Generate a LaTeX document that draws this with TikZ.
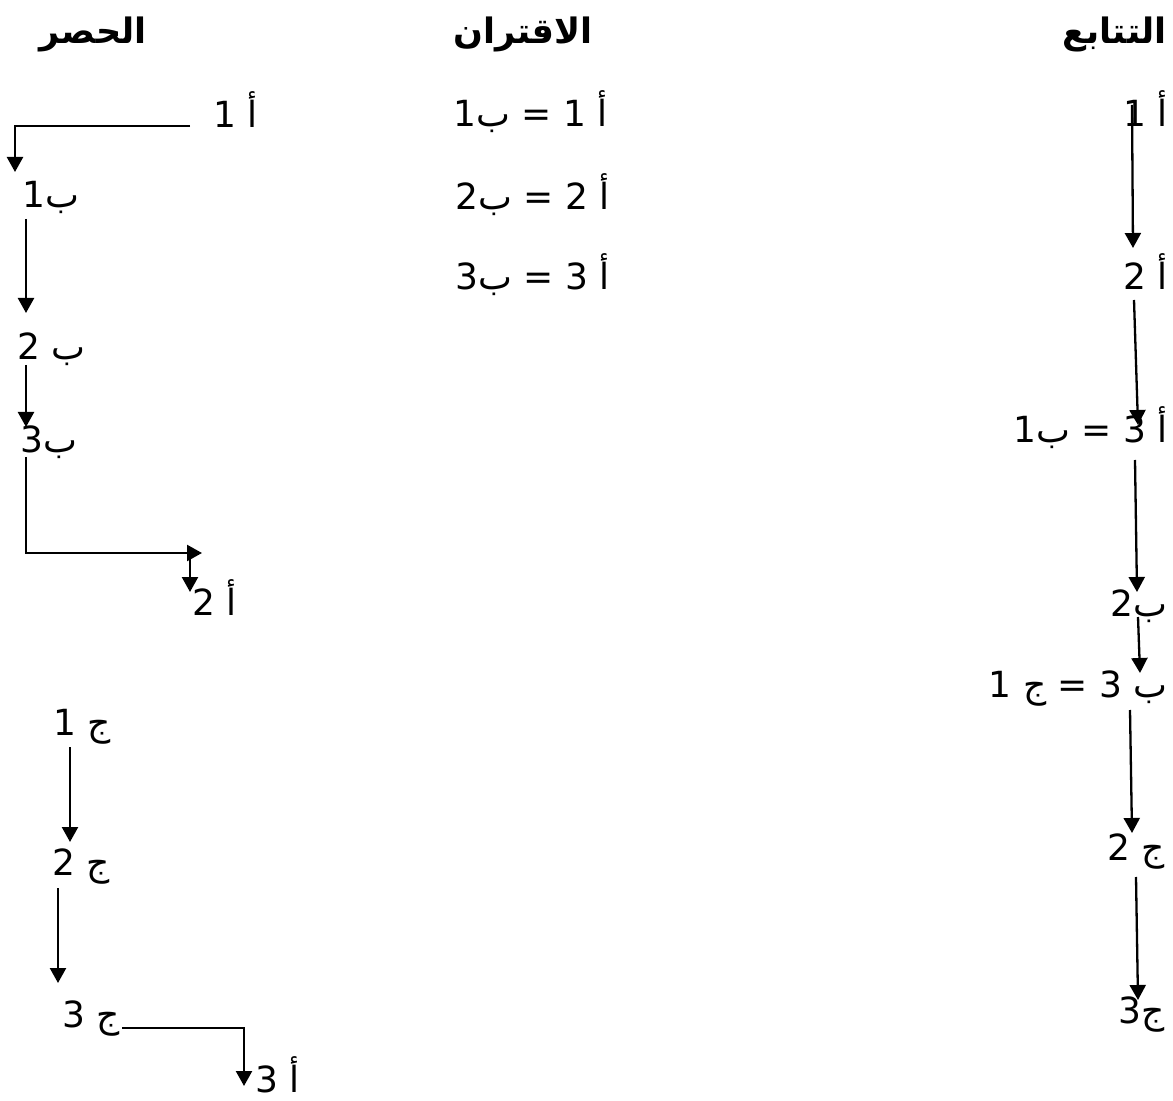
\documentclass[tikz,border=0pt]{standalone}
\usepackage{fontspec}
\setmainfont{DejaVu Sans}
\newfontfamily\arabicfont[Script=Arabic]{DejaVu Sans}
\TeXXeTstate=1
\usetikzlibrary{arrows.meta}

\begin{document}
\begin{tikzpicture}[x=.5pt,y=-.5pt,
    lbl/.style={inner sep=0pt,font=\arabicfont\fontsize{18}{22}\selectfont},
    head/.style={inner sep=0pt,font=\arabicfont\bfseries\fontsize{17.5}{20}\selectfont},
    link/.style={line width=1.15pt,-{Triangle[length=7.5pt,width=8pt]}}]
\useasboundingbox (0,0) rectangle (1173,1101);
\node[head,anchor=base east] (hasr) at (147,44) {\beginR الحصر\endR};
\node[head,anchor=base east] (iqtiran) at (593,44) {\beginR الاقتران\endR};
\node[head,anchor=base east] (tatabu) at (1167,44) {\beginR التتابع\endR};
\node[lbl,anchor=base east] (la1) at (258,128) {\beginR أ 1\endR};
\node[lbl,anchor=base west] (lb1) at (22,208) {\beginR ب1\endR};
\node[lbl,anchor=base west] (lb2) at (17,360) {\beginR ب 2\endR};
\node[lbl,anchor=base west] (lb3) at (20,453) {\beginR ب3\endR};
\node[lbl,anchor=base west] (la2) at (192,615) {\beginR أ 2\endR};
\node[lbl,anchor=base west] (lc1) at (53,735) {\beginR ج 1\endR};
\node[lbl,anchor=base west] (lc2) at (52,875) {\beginR ج 2\endR};
\node[lbl,anchor=base west] (lc3) at (62,1027) {\beginR ج 3\endR};
\node[lbl,anchor=base west] (la3) at (255,1092) {\beginR أ 3\endR};
\node[lbl,anchor=base east] (m1) at (608,127) {\beginR أ 1 = ب1\endR};
\node[lbl,anchor=base east] (m2) at (610,210) {\beginR أ 2 = ب2\endR};
\node[lbl,anchor=base east] (m3) at (610,290) {\beginR أ 3 = ب3\endR};
\node[lbl,anchor=base east] (ra1) at (1168,127) {\beginR أ 1\endR};
\node[lbl,anchor=base east] (ra2) at (1168,290) {\beginR أ 2\endR};
\node[lbl,anchor=base east] (ra3) at (1168,443) {\beginR أ 3 = ب1\endR};
\node[lbl,anchor=base east] (rb2) at (1168,617) {\beginR ب2\endR};
\node[lbl,anchor=base east] (rb3) at (1168,697) {\beginR ب 3 = ج 1\endR};
\node[lbl,anchor=base east] (rc2) at (1165,860) {\beginR ج 2\endR};
\node[lbl,anchor=base east] (rc3) at (1165,1023) {\beginR ج3\endR};
\coordinate (la1w) at (190,126);
\coordinate (lb1n) at (15,172);
\coordinate (lb1s) at (26,219);
\coordinate (lb2n) at (26,313);
\coordinate (lb2s) at (26,365);
\coordinate (lb3n) at (26,427);
\coordinate (lb3s) at (26,457);
\coordinate (la2t) at (202,553);
\coordinate (la2h) at (190,553);
\coordinate (la2n) at (190,592);
\coordinate (lc1s) at (70,747);
\coordinate (lc2n) at (70,842);
\coordinate (lc2s) at (58,888);
\coordinate (lc3n) at (58,983);
\coordinate (lc3e) at (122,1028);
\coordinate (la3n) at (244,1086);
\coordinate (ra1s) at (1132,105);
\coordinate (ra2n) at (1133,248);
\coordinate (ra2s) at (1134,300);
\coordinate (ra3n) at (1138,425);
\coordinate (ra3s) at (1135,460);
\coordinate (rb2n) at (1137,592);
\coordinate (rb2s) at (1138,617);
\coordinate (rb3n) at (1140,673);
\coordinate (rb3s) at (1130,710);
\coordinate (rc2n) at (1132,833);
\coordinate (rc2s) at (1136,877);
\coordinate (rc3n) at (1138,1000);
\draw[link] (la1w) -| (lb1n);
\draw[link] (lb1s) -- (lb2n);
\draw[link] (lb2s) -- (lb3n);
\draw[link] (lb3s) |- (la2t);
\draw[link] (la2h) -- (la2n);
\draw[link] (lc1s) -- (lc2n);
\draw[link] (lc2s) -- (lc3n);
\draw[link] (lc3e) -| (la3n);
\draw[link] (ra1s) -- (ra2n);
\draw[link] (ra2s) -- (ra3n);
\draw[link] (ra3s) -- (rb2n);
\draw[link] (rb2s) -- (rb3n);
\draw[link] (rb3s) -- (rc2n);
\draw[link] (rc2s) -- (rc3n);
\end{tikzpicture}
\end{document}
